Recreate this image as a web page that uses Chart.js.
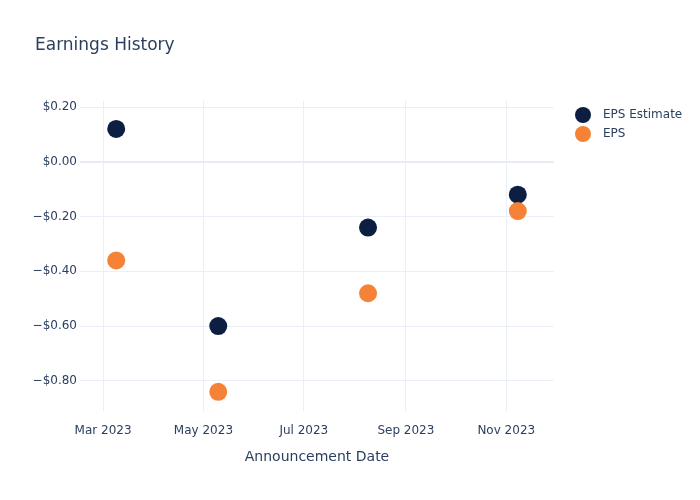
<!DOCTYPE html>
<html>
<head>
<meta charset="utf-8">
<script src="https://cdn.jsdelivr.net/npm/chart.js@4"></script>
<style>
  html, body { margin: 0; padding: 0; background: #fff; }
  #wrap { width: 700px; height: 500px; position: relative; }
</style>
</head>
<body>
<div id="wrap"><canvas id="c" width="700" height="500"></canvas></div>
<script>
const announcementDates = ['2023-03-09', '2023-05-10', '2023-08-09', '2023-11-08'];
const epsEstimate = [0.12, -0.60, -0.24, -0.12];
const epsActual = [-0.36, -0.84, -0.48, -0.18];
const seriesNames = ['EPS Estimate', 'EPS'];
const xTickDates = ['2023-03-01', '2023-05-01', '2023-07-01', '2023-09-01', '2023-11-01'];
const xTickLabels = ['Mar 2023', 'May 2023', 'Jul 2023', 'Sep 2023', 'Nov 2023'];
const yTickValues = [0.2, 0, -0.2, -0.4, -0.6, -0.8];
const chartTitle = 'Earnings History';
const xAxisTitle = 'Announcement Date';

const toTs = s => Date.parse(s + 'T00:00:00Z');
const colors = ['#0c1f43', '#f68238'];
const textColor = '#2a3f5f';
const gridColor = '#ebf0f8';
const fontFam = '"DejaVu Sans", sans-serif';

function fmtMoney(v) {
  const a = Math.abs(v).toFixed(2);
  return (v < -1e-9 ? '\u2212$' : '$') + a;
}

const overlay = {
  id: 'overlay',
  afterDraw(chart) {
    const ctx = chart.ctx;
    ctx.save();
    ctx.fillStyle = textColor;
    ctx.font = '17px ' + fontFam;
    ctx.textAlign = 'left';
    ctx.textBaseline = 'middle';
    ctx.fillText(chartTitle, 35, 45.5);
    ctx.font = '12px ' + fontFam;
    chart.data.datasets.forEach((ds, i) => {
      const y = 115 + i * 19;
      ctx.beginPath();
      ctx.arc(583, y, 8, 0, Math.PI * 2);
      ctx.fillStyle = ds.backgroundColor;
      ctx.fill();
      ctx.fillStyle = textColor;
      ctx.fillText(ds.label, 603, y);
    });
    ctx.restore();
  }
};

new Chart(document.getElementById('c'), {
  type: 'scatter',
  data: {
    datasets: [
      { label: seriesNames[0], data: announcementDates.map((d, i) => ({ x: toTs(d), y: epsEstimate[i] })),
        backgroundColor: colors[0], borderColor: colors[0], pointRadius: 9, pointHoverRadius: 9, borderWidth: 0, order: 2 },
      { label: seriesNames[1], data: announcementDates.map((d, i) => ({ x: toTs(d), y: epsActual[i] })),
        backgroundColor: colors[1], borderColor: colors[1], pointRadius: 9, pointHoverRadius: 9, borderWidth: 0, order: 1 }
    ]
  },
  options: {
    responsive: false,
    animation: false,
    layout: { padding: { top: 101, right: 146, bottom: 0, left: 0 } },
    plugins: { legend: { display: false }, title: { display: false }, tooltip: { enabled: false } },
    scales: {
      x: {
        type: 'linear',
        min: toTs('2023-02-15'),
        max: toTs('2023-11-30'),
        afterFit(s) { s.height = 89; },
        afterBuildTicks(s) { s.ticks = xTickDates.map(d => ({ value: toTs(d) })); },
        ticks: {
          color: textColor, font: { family: fontFam, size: 12 }, padding: 13, maxRotation: 0, autoSkip: false,
          callback(v) { const i = xTickDates.findIndex(d => toTs(d) === v); return i >= 0 ? xTickLabels[i] : ''; }
        },
        grid: { color: gridColor, lineWidth: 1, drawTicks: false },
        border: { display: false },
        title: { display: true, text: xAxisTitle, color: textColor, font: { family: fontFam, size: 14 }, padding: { top: 0, bottom: 34 } }
      },
      y: {
        min: -0.91,
        max: 0.222,
        afterFit(s) { s.width = 80; },
        afterBuildTicks(s) { s.ticks = yTickValues.map(v => ({ value: v })); },
        ticks: { color: textColor, font: { family: fontFam, size: 12 }, padding: 3, callback: v => fmtMoney(v) },
        grid: { color: ctx => (ctx.tick && Math.abs(ctx.tick.value) < 1e-9) ? '#e6ebf5' : gridColor,
                lineWidth: ctx => (ctx.tick && Math.abs(ctx.tick.value) < 1e-9) ? 2 : 1, drawTicks: false },
        border: { display: false }
      }
    }
  },
  plugins: [overlay]
});
</script>
</body>
</html>
